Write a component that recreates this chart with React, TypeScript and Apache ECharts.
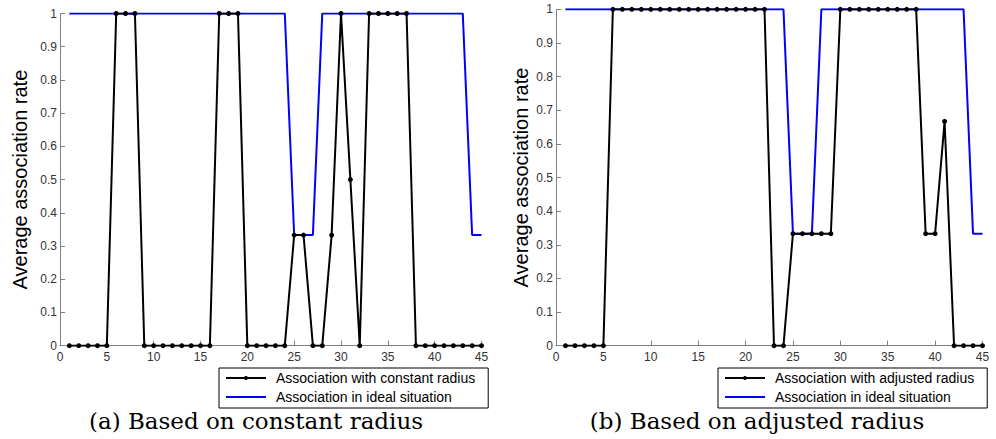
import React, { useEffect, useRef } from "react";
import * as echarts from "echarts";

const steps = [1, 2, 3, 4, 5, 6, 7, 8, 9, 10, 11, 12, 13, 14, 15, 16, 17, 18, 19, 20, 21, 22, 23, 24, 25, 26, 27, 28, 29, 30, 31, 32, 33, 34, 35, 36, 37, 38, 39, 40, 41, 42, 43, 44, 45];

const constantRadius = [0, 0, 0, 0, 0, 1, 1, 1, 0, 0, 0, 0, 0, 0, 0, 0, 1, 1, 1, 0, 0, 0, 0, 0, 0.333, 0.333, 0, 0, 0.333, 1, 0.5, 0, 1, 1, 1, 1, 1, 0, 0, 0, 0, 0, 0, 0, 0];

const adjustedRadius = [0, 0, 0, 0, 0, 1, 1, 1, 1, 1, 1, 1, 1, 1, 1, 1, 1, 1, 1, 1, 1, 1, 0, 0, 0.333, 0.333, 0.333, 0.333, 0.333, 1, 1, 1, 1, 1, 1, 1, 1, 1, 0.333, 0.333, 0.667, 0, 0, 0, 0];

const idealSituation = [1, 1, 1, 1, 1, 1, 1, 1, 1, 1, 1, 1, 1, 1, 1, 1, 1, 1, 1, 1, 1, 1, 1, 1, 0.333, 0.333, 0.333, 1, 1, 1, 1, 1, 1, 1, 1, 1, 1, 1, 1, 1, 1, 1, 1, 0.333, 0.333];

const nameConstant = "Association with constant radius";
const nameAdjusted = "Association with adjusted radius";
const nameIdeal = "Association in ideal situation";
const yTitle = "Average association rate";
const captionA = "(a) Based on constant radius";
const captionB = "(b) Based on adjusted radius";

export default function App() {
  const ref = useRef<HTMLDivElement>(null);

  useEffect(() => {
    const chart = echarts.init(ref.current!, null, { renderer: "svg" });
    const pair = (vals: number[]) => vals.map((v, i) => [steps[i], v]);

    const grids = [
      { left: 60, top: 13.5, width: 421.5, height: 332.2 },
      { left: 556, top: 9.3, width: 426.5, height: 336.4 },
    ];

    const axisColor = "#808080";
    const labelStyle = { fontSize: 12, fontFamily: "Liberation Sans, Arial, sans-serif", color: "#333" };

    const xAxis = grids.map((_, gi) => ({
      type: "value",
      gridIndex: gi,
      min: 0,
      max: 45,
      interval: 5,
      axisLine: { show: true, lineStyle: { color: axisColor, width: 1 } },
      axisTick: { show: true, inside: true, length: 5, lineStyle: { color: axisColor } },
      axisLabel: { margin: 5, ...labelStyle },
      splitLine: { show: false },
    }));

    const yAxis = grids.map((_, gi) => ({
      type: "value",
      gridIndex: gi,
      min: 0,
      max: 1,
      interval: 0.1,
      axisLine: { show: true, lineStyle: { color: axisColor, width: 1 } },
      axisTick: { show: true, inside: true, length: 5, lineStyle: { color: axisColor } },
      axisLabel: {
        margin: 3,
        ...labelStyle,
        formatter: (v: number) => String(Math.round(v * 10) / 10),
      },
      splitLine: { show: false },
    }));

    const blue = (gi: number) => ({
      type: "line",
      name: nameIdeal,
      xAxisIndex: gi,
      yAxisIndex: gi,
      data: pair(idealSituation),
      showSymbol: false,
      symbol: "none",
      color: "#0000ff",
      lineStyle: { color: "#0000ff", width: 2 },
      z: 2,
    });
    const black = (gi: number, name: string, vals: number[]) => ({
      type: "line",
      name,
      xAxisIndex: gi,
      yAxisIndex: gi,
      data: pair(vals),
      symbol: "circle",
      symbolSize: 5,
      color: "#000",
      itemStyle: { color: "#000" },
      lineStyle: { color: "#000", width: 2 },
      z: 3,
    });

    const legendBase = {
      orient: "vertical",
      top: 368,
      itemWidth: 40,
      itemHeight: 5,
      itemGap: 5,
      padding: [3, 13, 4, 6],
      borderColor: "#000",
      borderWidth: 1,
      backgroundColor: "#fff",
      borderRadius: 0,
      textStyle: {
        fontSize: 14,
        lineHeight: 14,
        fontFamily: "Liberation Sans, Arial, sans-serif",
        color: "#000",
        padding: [0, 0, 0, 5],
      },
      selectedMode: false,
    };

    const idealItem = { name: nameIdeal, itemStyle: { opacity: 0 } };

    const titleFont = "20px 'Liberation Sans', Arial, sans-serif";
    const captionFont = "23px 'DejaVu Serif', serif";

    chart.setOption({
      animation: false,
      backgroundColor: "#fff",
      grid: grids,
      xAxis,
      yAxis,
      legend: [
        { ...legendBase, left: 219, data: [nameConstant, idealItem] },
        { ...legendBase, left: 718, data: [nameAdjusted, idealItem] },
      ],
      series: [
        blue(0),
        black(0, nameConstant, constantRadius),
        blue(1),
        black(1, nameAdjusted, adjustedRadius),
      ],
      graphic: [
        {
          type: "text",
          x: 20,
          y: 179.6,
          rotation: Math.PI / 2,
          style: { text: yTitle, font: titleFont, fill: "#000", textAlign: "center", textVerticalAlign: "middle" },
        },
        {
          type: "text",
          x: 521,
          y: 177.5,
          rotation: Math.PI / 2,
          style: { text: yTitle, font: titleFont, fill: "#000", textAlign: "center", textVerticalAlign: "middle" },
        },
        {
          type: "text",
          x: 256,
          y: 421,
          style: { text: captionA, font: captionFont, fill: "#000", textAlign: "center", textVerticalAlign: "middle" },
        },
        {
          type: "text",
          x: 757,
          y: 421,
          style: { text: captionB, font: captionFont, fill: "#000", textAlign: "center", textVerticalAlign: "middle" },
        },
      ],
    });

    return () => chart.dispose();
  }, []);

  return (
    <div
      ref={ref}
      style={{ position: "absolute", left: 0, top: 0, width: 996, height: 439, background: "#fff" }}
    />
  );
}
